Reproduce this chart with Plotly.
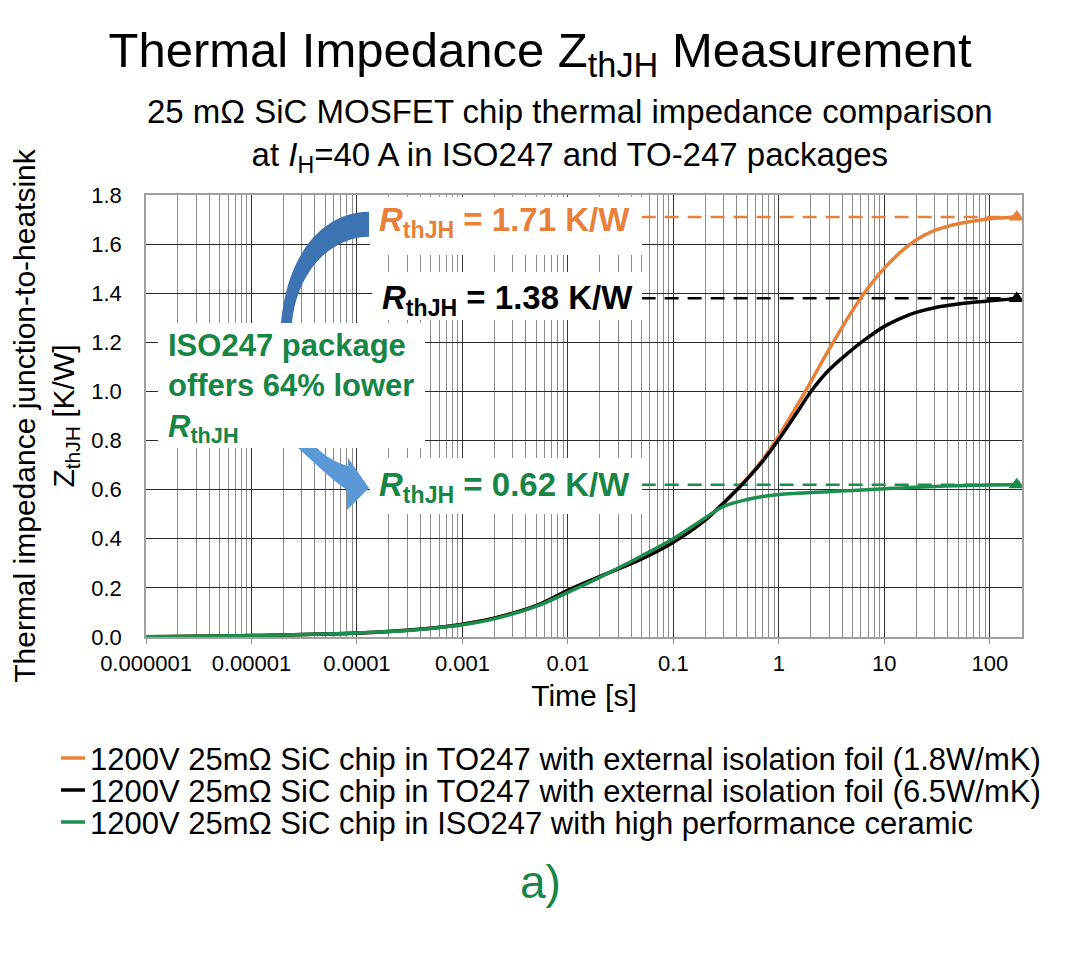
import plotly.graph_objects as go

# Zth curves, time in seconds, Zth in K/W
time_s = [1e-6, 2e-6, 5e-6, 1e-5, 2e-5, 5e-5, 1e-4, 2e-4, 5e-4, 1e-3, 2e-3, 5e-3,
          0.01, 0.02, 0.05, 0.1, 0.2, 0.3, 0.5, 0.7, 1, 1.5, 2, 3, 5, 7, 10,
          15, 20, 30, 50, 70, 100, 180]

zth_to247_foil_18 = [0.001, 0.002, 0.004, 0.006, 0.008, 0.012, 0.016, 0.022, 0.036, 0.052,
                     0.077, 0.128, 0.19, 0.246, 0.318, 0.386, 0.476, 0.548, 0.647, 0.722,
                     0.82, 0.945, 1.038, 1.172, 1.33, 1.421, 1.502, 1.576, 1.617, 1.656,
                     1.683, 1.694, 1.703, 1.71]

zth_to247_foil_65 = [0.001, 0.002, 0.004, 0.006, 0.008, 0.012, 0.016, 0.022, 0.036, 0.052,
                     0.077, 0.128, 0.19, 0.246, 0.318, 0.386, 0.476, 0.546, 0.643, 0.715,
                     0.805, 0.917, 0.998, 1.088, 1.172, 1.22, 1.265, 1.302, 1.322, 1.341,
                     1.356, 1.363, 1.369, 1.378]

zth_iso247_ceramic = [0.001, 0.002, 0.004, 0.006, 0.008, 0.012, 0.016, 0.022, 0.035, 0.05,
                      0.074, 0.125, 0.182, 0.243, 0.33, 0.40, 0.485, 0.532, 0.56, 0.572,
                      0.58, 0.585, 0.588, 0.592, 0.597, 0.60, 0.604, 0.607, 0.61, 0.613,
                      0.616, 0.618, 0.619, 0.62]

series_names = [
    "1200V 25mΩ SiC chip in TO247 with external isolation foil (1.8W/mK)",
    "1200V 25mΩ SiC chip in TO247 with external isolation foil (6.5W/mK)",
    "1200V 25mΩ SiC chip in ISO247 with high performance ceramic",
]
rth_values = [1.71, 1.38, 0.62]

x_tick_vals = [1e-6, 1e-5, 1e-4, 1e-3, 1e-2, 1e-1, 1, 10, 100]
x_tick_text = ["0.000001", "0.00001", "0.0001", "0.001", "0.01", "0.1", "1", "10", "100"]

ORANGE = "#E8803A"
BLACK = "#000000"
GREEN = "#1B8E4E"
TEXT_GREEN = "#168545"
BLUE_DARK = "#3D72B3"
BLUE_LIGHT = "#5A99D6"
FONT = "Liberation Sans, Arial, sans-serif"

# the page body adds an 8px margin, so the figure is made 8px smaller and
# everything below is laid out in the reference's pixel positions
OFF = 8
W, H = 1080 - OFF, 955 - OFF
ML, MR, MT, MB = 146 - OFF, 58, 195 - OFF, 318
PW = W - ML - MR
PH = H - MT - MB


def px(x):
    return (x - 146) / PW


def py(y):
    return (637 - y) / PH


def make_path(cmds):
    # plotly only converts the first point of an L segment, so one L per point
    out = []
    for op, pts in cmds:
        if op == "L":
            for a, b in pts:
                out.append(f"L {px(a):.4f},{py(b):.4f}")
        else:
            out.append(op + " " + " ".join(f"{px(a):.4f},{py(b):.4f}" for a, b in pts))
    return " ".join(out) + " Z"


fig = go.Figure()

colors = [ORANGE, BLACK, GREEN]
curves = [zth_to247_foil_18, zth_to247_foil_65, zth_iso247_ceramic]
dash_start = 0.05

# dashed Rth levels first so the curves sit on top
for col, r in zip(colors, rth_values):
    fig.add_trace(go.Scatter(
        x=[dash_start, time_s[-1]], y=[r, r], mode="lines",
        line=dict(color=col, width=2.5, dash="14px,9px"),
        showlegend=False, hoverinfo="skip"))

for name, col, z in zip(series_names, colors, curves):
    fig.add_trace(go.Scatter(
        x=time_s, y=z, mode="lines", name=name, showlegend=False,
        line=dict(color=col, width=3.5, shape="spline", smoothing=1.0)))
    fig.add_trace(go.Scatter(
        x=[time_s[-1]], y=[z[-1]], mode="markers",
        marker=dict(symbol="triangle-up", size=14, color=col),
        showlegend=False, hoverinfo="skip"))

# curved blue arrow (top part darker, bottom part lighter)
arrow_top = make_path([
    ("M", [(369, 211.7)]),
    ("C", [(322, 212), (287, 255), (281, 323)]),
    ("L", [(281, 345), (292, 345), (292, 323)]),
    ("C", [(297, 272), (330, 237), (369, 236.7)]),
])
arrow_bottom = make_path([
    ("M", [(294, 425)]),
    ("L", [(298, 448)]),
    ("C", [(318, 466), (332, 480), (347, 490)]),
    ("L", [(347, 510), (369, 488), (348, 458), (348, 466)]),
    ("C", [(335, 462), (325, 456), (317, 448)]),
    ("L", [(313, 425)]),
])

shapes = []
# white label boxes that hide the grid
for x0, x1, y0, y1 in [(370, 642, 197, 255), (372, 642, 272, 320), (370, 642, 458, 514)]:
    shapes.append(dict(type="rect", xref="paper", yref="paper",
                       x0=px(x0), x1=px(x1), y0=py(y1), y1=py(y0),
                       fillcolor="white", line=dict(width=0), layer="above"))
shapes.append(dict(type="path", xref="paper", yref="paper", path=arrow_top,
                   fillcolor=BLUE_DARK, line=dict(width=0), layer="above"))
shapes.append(dict(type="path", xref="paper", yref="paper", path=arrow_bottom,
                   fillcolor=BLUE_LIGHT, line=dict(width=0), layer="above"))
shapes.append(dict(type="rect", xref="paper", yref="paper",
                   x0=px(158), x1=px(425), y0=py(448), y1=py(323),
                   fillcolor="white", line=dict(width=0), layer="above"))

annotations = [
    dict(text="25 mΩ SiC MOSFET chip thermal impedance comparison<br>"
              "at <i>I</i><sub>H</sub>=40 A in ISO247 and TO-247 packages",
         x=px(570), y=py(135), font=dict(size=33, color="black", family=FONT)),
    dict(text="<b><i>R</i><sub>thJH</sub> = 1.71 K/W</b>",
         x=px(504), y=py(222), font=dict(size=33, color=ORANGE, family=FONT)),
    dict(text="<b><i>R</i><sub>thJH</sub> = 1.38 K/W</b>",
         x=px(507), y=py(300), font=dict(size=33, color=BLACK, family=FONT)),
    dict(text="<b><i>R</i><sub>thJH</sub> = 0.62 K/W</b>",
         x=px(504), y=py(487), font=dict(size=33, color=TEXT_GREEN, family=FONT)),
    dict(text="<b>ISO247 package<br>offers 64% lower<br><i>R</i><sub>thJH</sub></b>",
         x=px(166), y=py(388), xanchor="left", align="left",
         font=dict(size=31, color=TEXT_GREEN, family=FONT)),
    dict(text="a)", x=px(540), y=py(882),
         font=dict(size=46, color=TEXT_GREEN, family=FONT)),
]

# legend drawn as short coloured dashes followed by the series names
legend_rows = [758, 790, 822]
for name, col, yrow in zip(series_names, colors, legend_rows):
    shapes.append(dict(type="line", xref="paper", yref="paper",
                       x0=px(61), x1=px(85), y0=py(yrow), y1=py(yrow),
                       line=dict(color=col, width=3.5)))
    annotations.append(dict(text=name, x=px(88), y=py(yrow + 1), xanchor="left",
                            font=dict(size=31, color="black", family=FONT)))

for a in annotations:
    a.setdefault("xref", "paper")
    a.setdefault("yref", "paper")
    a.setdefault("showarrow", False)
    a.setdefault("xanchor", "center")
    a.setdefault("yanchor", "middle")

minor_vals = [m * 10 ** e for e in range(-6, 3) for m in range(2, 10)]

fig.update_layout(
    width=W, height=H,
    margin=dict(l=ML, r=MR, t=MT, b=MB),
    paper_bgcolor="white", plot_bgcolor="white",
    font=dict(family=FONT, color="black"),
    showlegend=False,
    title=dict(text="Thermal Impedance Z<sub>thJH</sub> Measurement",
               x=(540 - OFF) / W, xanchor="center", xref="container",
               y=1 - (50 - OFF) / H, yanchor="middle",
               font=dict(size=49, color="black", family=FONT)),
    xaxis=dict(
        type="log", range=[-6, 2.305],
        tickmode="array", tickvals=x_tick_vals, ticktext=x_tick_text,
        tickfont=dict(size=22), ticks="outside", ticklen=5, tickcolor="#909090",
        ticklabelstandoff=1,
        showgrid=True, gridcolor="#333333", gridwidth=1.2,
        minor=dict(tickmode="array", tickvals=minor_vals, showgrid=True,
                   gridcolor="#8c8c8c", gridwidth=1, ticks=""),
        showline=True, linecolor="#a0a0a0", linewidth=1.5, mirror=True,
        zeroline=False,
        title=dict(text="Time [s]", font=dict(size=30), standoff=10),
    ),
    yaxis=dict(
        range=[0, 1.8], dtick=0.2, tickformat=".1f",
        tickfont=dict(size=22), ticks="", ticklabelstandoff=18,
        showgrid=True, gridcolor="#2a2a2a", gridwidth=1.2,
        showline=True, linecolor="#a0a0a0", linewidth=1.5, mirror=True,
        zeroline=False,
        title=dict(text="Thermal impedance junction-to-heatsink<br>Z<sub>thJH</sub> [K/W]",
                   font=dict(size=30), standoff=12),
    ),
    shapes=shapes,
    annotations=annotations,
)

fig.write_html("out.html")
